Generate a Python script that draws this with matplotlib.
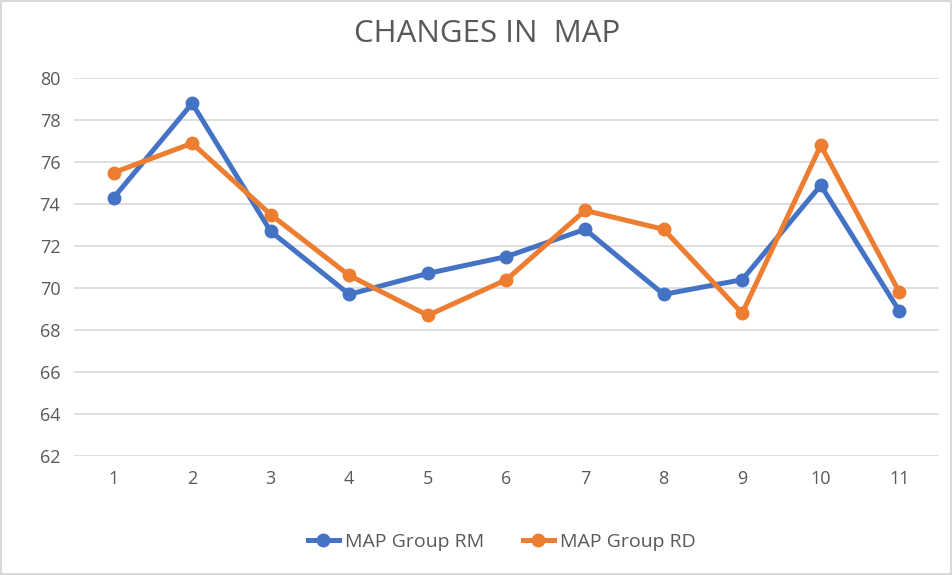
import matplotlib.pyplot as plt
import numpy as np

categories = ["1", "2", "3", "4", "5", "6", "7", "8", "9", "10", "11"]
map_rm = [74.3, 78.8, 72.7, 69.7, 70.7, 71.5, 72.8, 69.7, 70.4, 74.9, 68.9]
map_rd = [75.5, 76.9, 73.5, 70.6, 68.7, 70.4, 73.7, 72.8, 68.8, 76.8, 69.8]
y_ticks = [62, 64, 66, 68, 70, 72, 74, 76, 78, 80]

plt.rcParams['font.family'] = ['Open Sans', 'DejaVu Sans']

fig = plt.figure(figsize=(9.52, 5.75), dpi=100)
fig.patch.set_edgecolor("#D9D9D9")
fig.patch.set_linewidth(1.5)
ax = fig.add_axes([0.078, 0.207, 0.908, 0.657])

x = np.arange(1, len(categories) + 1)
ax.plot(x, map_rm, color="#4472C4", lw=3.6, marker="o", ms=9, label="MAP Group RM", zorder=3)
ax.plot(x, map_rd, color="#ED7D31", lw=3.6, marker="o", ms=9, label="MAP Group RD", zorder=4)

ax.set_xlim(0.5, len(categories) + 0.5)
ax.set_ylim(62, 80)
ax.set_xticks(x)
ax.set_xticklabels(categories)
ax.set_yticks(y_ticks)
ax.tick_params(length=0, labelsize=13, labelcolor="#595959", pad=10)
ax.grid(axis="y", color="#D9D9D9", lw=1.2)
ax.set_axisbelow(True)
for s in ax.spines.values():
    s.set_visible(False)

fig.text(0.512, 0.94, "CHANGES IN  MAP", ha="center", va="center", fontsize=22.5, color="#595959")

fig.legend(loc="center", bbox_to_anchor=(0.527, 0.057), ncol=2, frameon=False,
           fontsize=14, labelcolor="#595959", handlelength=1.6, handletextpad=0.3,
           columnspacing=2.0)

fig.savefig("out.png", dpi=100)
